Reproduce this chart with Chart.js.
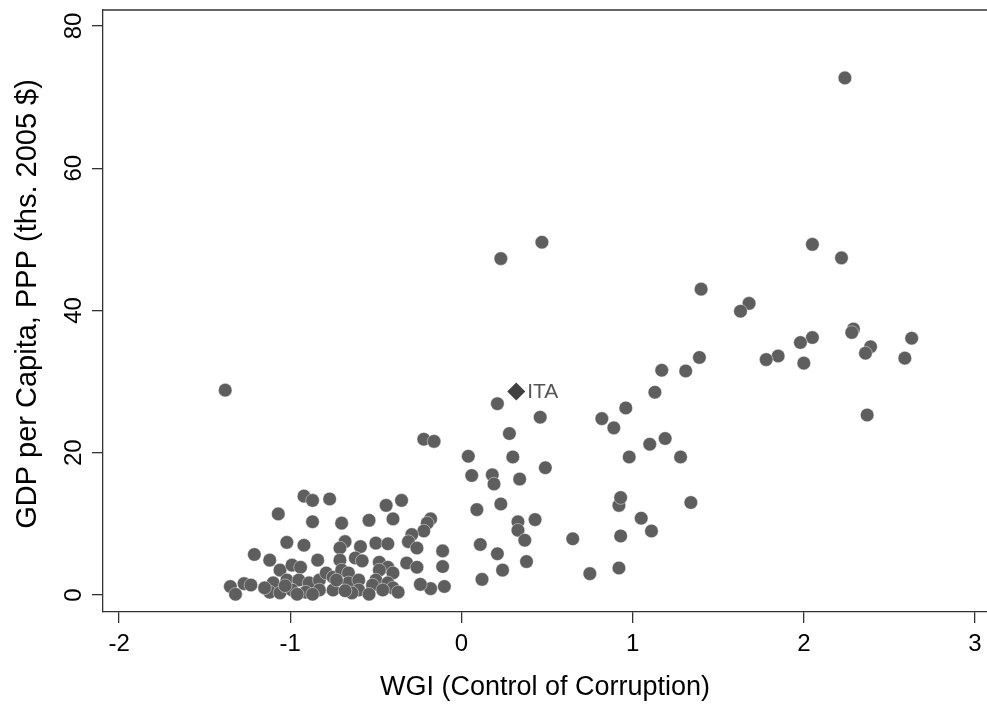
<!DOCTYPE html>
<html>
<head>
<meta charset="utf-8">
<script src="https://cdn.jsdelivr.net/npm/chart.js@4.4.1/dist/chart.umd.min.js"></script>
<style>
  html, body { margin: 0; padding: 0; background: #fff; overflow: hidden; }
  #wrap { width: 987px; height: 704px; position: relative; }
</style>
</head>
<body>
<div id="wrap"><canvas id="scatter-chart"></canvas></div>
<script>
// WGI control of corruption vs GDP per capita (ths. 2005 $, PPP)
const wgi = [
  2.24, 0.47, 0.23, 2.05, 2.22, 1.40, 1.68, 1.63, 2.29, 2.28, 2.63, 2.05, 1.98, 1.85, 1.78, 2.00, 2.39, 2.36, 2.59, 1.39,
  1.17, 1.31, 1.13, 2.37, -1.38,
  0.21, 0.46, 0.28, 0.04, 0.30, 0.49, 0.06, 0.18, 0.19, 0.34, 0.09, 0.23, 0.33, 0.43, 0.33, 0.37, 0.11, 0.21, 0.38, 0.24,
  0.12, 0.65, 0.75, 0.92, 0.93, 0.92, 0.93, 1.05, 1.11, 1.34, 0.98, 1.10, 1.19, 1.28, 0.82, 0.89, 0.96,
  -0.22, -0.16, -0.11, -0.11, -0.10, -0.18, -0.24, -0.18, -0.20, -0.22, -0.29, -0.31, -0.26, -0.32, -0.26,
  -0.92, -0.87, -0.77, -0.44, -0.35, -1.07, -0.87, -0.70, -0.54, -0.40, -1.02, -0.92, -0.50, -0.43, -0.59, -0.68, -0.71,
  -1.21, -1.12, -0.84, -0.62, -0.58, -1.35, -1.32, -1.27, -1.23,
  -1.06, -0.99, -0.94, -1.10, -1.02, -0.95, -0.89, -0.83, -0.79, -0.75, -1.12, -1.06, -0.99, -0.91, -0.83, -0.75,
  -0.48, -0.43, -0.48, -0.40, -0.50, -0.43, -0.40, -0.52, -0.46, -0.71, -0.70, -0.66, -0.66, -0.60, -0.60, -0.73, -0.64,
  -0.68, -0.87, -0.96, -1.03, -1.15, -0.54, -0.37
]
const gdp = [
  72.7, 49.6, 47.3, 49.3, 47.4, 43.0, 41.0, 39.9, 37.4, 36.9, 36.1, 36.2, 35.5, 33.6, 33.1, 32.6, 34.9, 34.0, 33.3, 33.4,
  31.6, 31.5, 28.5, 25.3, 28.8,
  26.9, 25.0, 22.7, 19.5, 19.4, 17.9, 16.8, 16.9, 15.6, 16.3, 12.0, 12.8, 10.3, 10.6, 9.1, 7.7, 7.1, 5.8, 4.7, 3.5,
  2.2, 7.9, 3.0, 3.8, 8.3, 12.6, 13.7, 10.8, 9.0, 13.0, 19.4, 21.2, 22.0, 19.4, 24.8, 23.5, 26.3,
  21.9, 21.6, 6.2, 4.0, 1.2, 0.9, 1.5, 10.7, 10.1, 9.0, 8.5, 7.5, 6.6, 4.5, 3.9,
  13.9, 13.3, 13.5, 12.6, 13.3, 11.4, 10.3, 10.1, 10.5, 10.7, 7.4, 7.0, 7.3, 7.2, 6.8, 7.5, 6.6,
  5.7, 4.9, 4.9, 5.2, 4.8, 1.2, 0.1, 1.6, 1.4,
  3.5, 4.2, 3.9, 1.7, 2.1, 2.1, 1.7, 2.1, 3.1, 2.5, 0.4, 0.3, 0.7, 0.4, 0.7, 0.7,
  4.6, 3.9, 3.5, 3.1, 2.1, 1.7, 1.0, 1.4, 0.7, 4.9, 3.5, 3.1, 1.7, 2.1, 0.7, 2.1, 0.3,
  0.6, 0.1, 0.1, 1.3, 1.0, 0.1, 0.4
]

// highlighted country
const hiCodes = ["ITA"]
const hiWgi = [0.32]
const hiGdp = [28.6]

const xTicks = [-2, -1, 0, 1, 2, 3]
const yTicks = [0, 20, 40, 60, 80]
const yTitle = "GDP per Capita, PPP (ths. 2005 $)"

const FONT = "'Liberation Sans', Arial, sans-serif"

const extras = {
  id: "extras",
  afterDraw(chart) {
    const { ctx, chartArea, scales } = chart
    ctx.save()
    // top frame line
    ctx.strokeStyle = "#333"
    ctx.lineWidth = 1.3
    ctx.beginPath()
    ctx.moveTo(chartArea.left, chartArea.top)
    ctx.lineTo(chartArea.right, chartArea.top)
    ctx.stroke()
    // rotated y tick labels + y title
    ctx.fillStyle = "#000"
    ctx.textAlign = "center"
    ctx.textBaseline = "middle"
    ctx.font = "24px " + FONT
    yTicks.forEach((v) => {
      const py = scales.y.getPixelForValue(v)
      ctx.save()
      ctx.translate(73, py)
      ctx.rotate(-Math.PI / 2)
      ctx.fillText(String(v), 0, 1)
      ctx.restore()
    })
    ctx.save()
    ctx.font = "29px " + FONT
    ctx.translate(28, 304)
    ctx.rotate(-Math.PI / 2)
    ctx.fillText(yTitle, 0, 0)
    ctx.restore()
    // labels of highlighted points
    ctx.fillStyle = "#555"
    ctx.font = "21px " + FONT
    ctx.textAlign = "left"
    hiCodes.forEach((c, i) => {
      const px = scales.x.getPixelForValue(hiWgi[i])
      const py = scales.y.getPixelForValue(hiGdp[i])
      ctx.fillText(c, px + 11, py + 1)
    })
    ctx.restore()
  },
}

const ctx = document.getElementById("scatter-chart")

const scatterChart = new Chart(ctx, {
  type: "scatter",
  data: {
    datasets: [
      {
        label: "Countries",
        data: wgi.map((x, i) => ({ x: x, y: gdp[i] })),
        backgroundColor: "#5e5e5e",
        borderColor: "rgba(255,255,255,0.55)",
        borderWidth: 0.8,
        pointRadius: 6.8,
        pointHoverRadius: 6.8,
      },
      {
        label: "ITA",
        data: hiWgi.map((x, i) => ({ x: x, y: hiGdp[i] })),
        pointStyle: "rectRot",
        backgroundColor: "#404040",
        borderColor: "#404040",
        borderWidth: 0,
        pointRadius: 9,
      },
    ],
  },
  options: {
    responsive: true,
    maintainAspectRatio: false,
    animation: false,
    layout: { autoPadding: false, padding: { top: 10, right: 0, left: 0, bottom: 0 } },
    plugins: {
      legend: { display: false },
      tooltip: { enabled: false },
    },
    scales: {
      x: {
        type: "linear",
        min: -2.094,
        max: 3.07,
        afterBuildTicks: (s) => { s.ticks = xTicks.map((v) => ({ value: v })) },
        afterFit: (s) => { s.height = 92; s.paddingRight = 0; s.paddingLeft = 0 },
        border: { display: true, color: "#333", width: 1.3 },
        grid: { drawOnChartArea: false, drawTicks: true, tickLength: 11, color: "#333", lineWidth: 1.3 },
        ticks: { color: "#000", font: { family: FONT, size: 24 }, padding: 7, maxRotation: 0 },
        title: {
          display: true,
          text: "WGI (Control of Corruption)",
          color: "#000",
          font: { family: FONT, size: 27 },
          padding: { top: 0, bottom: 0 },
        },
      },
      y: {
        type: "linear",
        min: -2.39,
        max: 82.25,
        afterBuildTicks: (s) => { s.ticks = yTicks.map((v) => ({ value: v })) },
        afterFit: (s) => { s.width = 103; s.paddingTop = 0; s.paddingBottom = 0 },
        border: { display: true, color: "#333", width: 1.3 },
        grid: { drawOnChartArea: false, drawTicks: true, tickLength: 11, color: "#333", lineWidth: 1.3 },
        ticks: { display: false },
        title: { display: false },
      },
    },
  },
  plugins: [extras],
})
</script>
</body>
</html>
